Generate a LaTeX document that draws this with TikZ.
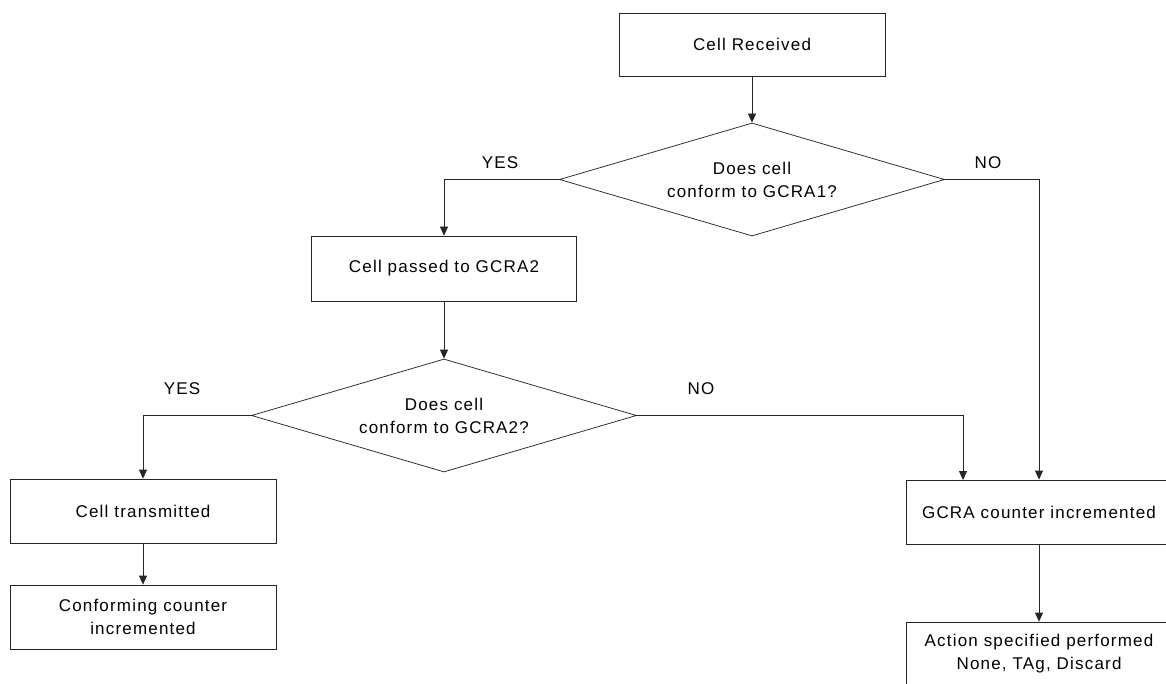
\documentclass[tikz,border=0pt]{standalone}
\usepackage{fontspec}
\setmainfont{Liberation Sans}[LetterSpace=7]
\usetikzlibrary{shapes.geometric,arrows.meta}
\begin{document}
\begin{tikzpicture}[x=1pt,y=-1pt,
  font=\fontsize{17}{23}\selectfont,
  line width=0.75pt,
  box/.style={draw=black!85, rectangle, minimum width=266pt, minimum height=64pt, inner sep=0pt, align=center},
  dec/.style={draw=black!85, diamond, aspect=3.4, minimum width=385pt, minimum height=113pt, inner sep=0pt, align=center},
  arr/.style={draw=black!85, -{Triangle[length=9pt,width=8pt]}},
  lbl/.style={inner sep=0pt}]
\useasboundingbox (0,0) rectangle (1166,684);
\clip (0,0) rectangle (1166,684);

\node[box, minimum height=63pt] (rec) at (752,44.5) {Cell Received};
\node[dec] (d1) at (752,179.5) {Does cell\\conform to GCRA1?};
\node[box, minimum width=265pt, minimum height=65pt] (pass) at (444,268.5) {Cell passed to GCRA2};
\node[dec] (d2) at (444,415.5) {Does cell\\conform to GCRA2?};
\node[box] (trans) at (143,511) {Cell transmitted};
\node[box] (conf) at (143,617) {Conforming counter\\incremented};
\node[box] (gcra) at (1039,512) {GCRA counter incremented};
\node[box] (act) at (1039,654) {Action specified performed\\None, TAg, Discard};
\coordinate (gin) at (963,480);

\draw[arr] (rec.south) -- (d1.north);
\draw[arr] (d1.west) -| (pass.north);
\draw[arr] (d1.east) -| (gcra.north);
\draw[arr] (pass.south) -- (d2.north);
\draw[arr] (d2.west) -| (trans.north);
\draw[arr] (d2.east) -| (gin);
\draw[arr] (trans.south) -- (conf.north);
\draw[arr] (gcra.south) -- (act.north);

\node[lbl] (y1) at (500,163) {YES};
\node[lbl] (n1) at (988,163) {NO};
\node[lbl] (y2) at (182,389) {YES};
\node[lbl] (n2) at (701,389) {NO};
\end{tikzpicture}
\end{document}
